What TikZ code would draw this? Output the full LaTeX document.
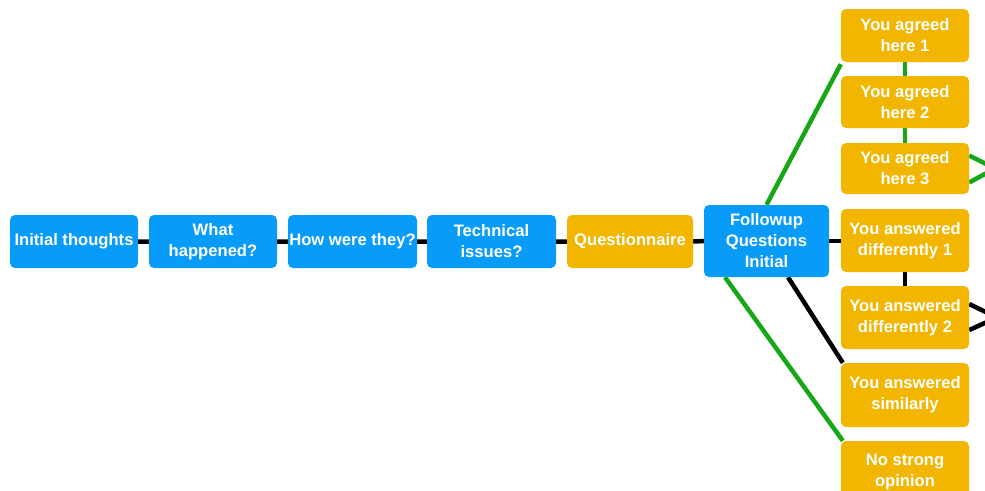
\documentclass[tikz,border=0pt]{standalone}
\usepackage{fontspec}
\setmainfont{Liberation Sans}
\usetikzlibrary{backgrounds}
\definecolor{boxblue}{RGB}{8,156,248}
\definecolor{boxgold}{RGB}{242,182,0}
\definecolor{linkgreen}{RGB}{22,168,20}
\tikzset{
  card/.style={rounded corners=5pt, minimum width=128pt, inner sep=0pt,
    text=white, align=center,
    font=\bfseries\fontsize{16.6}{21}\selectfont},
  bluecard/.style={card, fill=boxblue},
  goldcard/.style={card, fill=boxgold},
  blackline/.style={line width=4.5pt, black},
  greenline/.style={line width=4.5pt, linkgreen}
}
\begin{document}
\begin{tikzpicture}[x=1pt,y=-1pt]
\useasboundingbox (0,0) rectangle (985,490);
\clip (0,0) rectangle (985,490);

% main sequence
\node[bluecard, minimum height=53pt] (init)  at (74,241.5)    {Initial thoughts};
\node[bluecard, minimum height=53pt] (what)  at (213,241.5)   {What\\happened?};
\node[bluecard, minimum height=53pt, minimum width=129pt] (how) at (352.5,241.5) {How were they?};
\node[bluecard, minimum height=53pt, minimum width=129pt] (tech) at (491.5,241.5) {Technical\\issues?};
\node[goldcard, minimum height=53pt, minimum width=126pt] (quest) at (630,241.5) {Questionnaire};
\node[bluecard, minimum height=72pt, minimum width=125pt] (follow) at (766.5,241) {Followup\\Questions\\Initial};

% answer column
\node[goldcard, minimum height=53pt] (a1)  at (905,35.5)  {You agreed\\here 1};
\node[goldcard, minimum height=52pt] (a2)  at (905,102)   {You agreed\\here 2};
\node[goldcard, minimum height=51pt] (a3)  at (905,168.5) {You agreed\\here 3};
\node[goldcard, minimum height=63pt] (d1)  at (905,240.5) {You answered\\differently 1};
\node[goldcard, minimum height=63pt] (d2)  at (905,317.5) {You answered\\differently 2};
\node[goldcard, minimum height=64pt] (sim) at (905,395)   {You answered\\similarly};
\node[goldcard, minimum height=63pt] (nso) at (905,472.5) {No strong\\opinion};

% exits towards the next column
\coordinate (a3out) at (995,168.5);
\coordinate (d2out) at (997,317.5);

\begin{scope}[on background layer]
  \clip (0,0) rectangle (985,490);
  \draw[blackline] (init) -- (what) -- (how) -- (tech) -- (quest) -- (follow);
  \draw[blackline] (follow.east) -- (follow.east -| d1.west);
  \draw[blackline] (d1) -- (d2);
  \draw[blackline] ([xshift=21.5pt]follow.south) -- ([xshift=2pt]sim.north west);
  \draw[blackline] ([yshift=-12.5pt]d2.east) -- (d2out) -- ([yshift=13.5pt]d2.east);
  \draw[greenline] (follow.north) -- ([yshift=-2pt]a1.south west);
  \draw[greenline] (a1) -- (a2) -- (a3);
  \draw[greenline] ([yshift=-14pt]a3.east) -- (a3out) -- ([yshift=13pt]a3.east);
  \draw[greenline] ([xshift=-41.5pt]follow.south) -- ([xshift=2pt]nso.north west);
\end{scope}
\end{tikzpicture}
\end{document}
